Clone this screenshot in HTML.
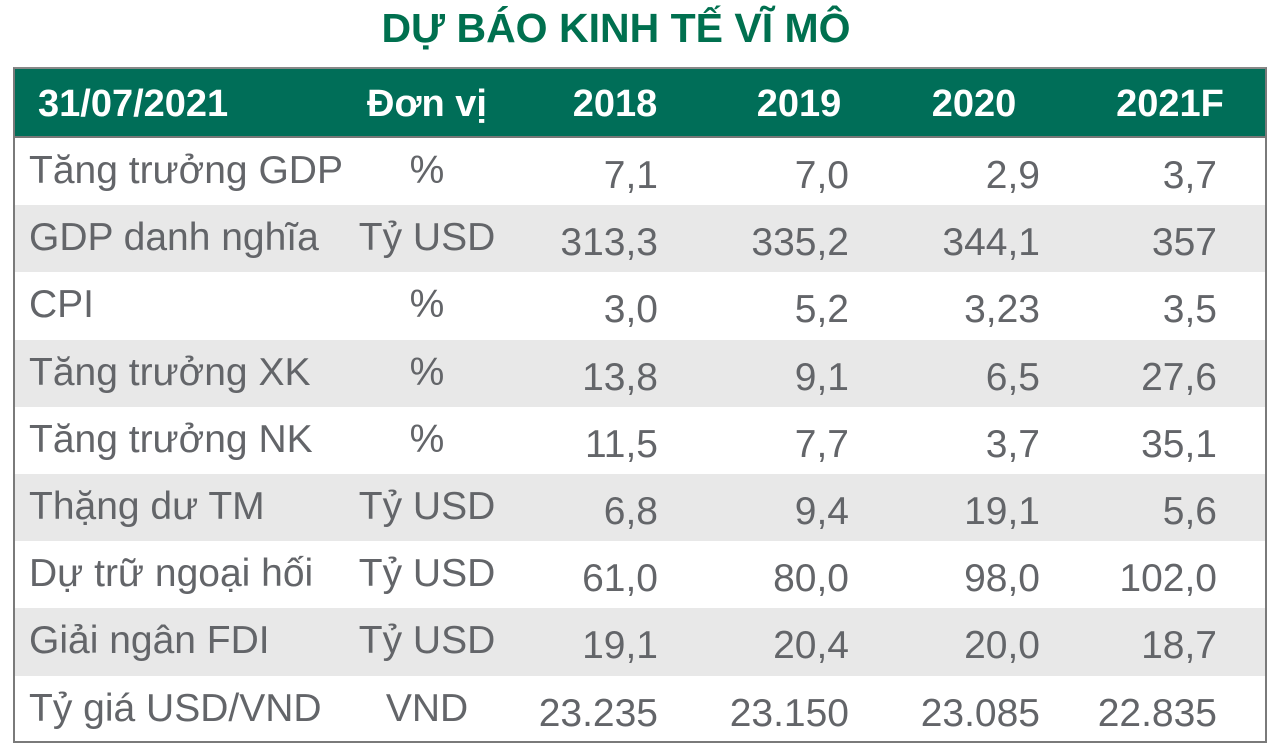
<!DOCTYPE html>
<html><head><meta charset="utf-8"><style>
body{margin:0;width:1276px;height:751px;background:#fff;position:relative;font-family:"Liberation Sans",sans-serif;overflow:hidden}
.t{position:absolute;left:0;width:1232px;top:6px;text-align:center;color:#00704f;font-weight:bold;font-size:41px;line-height:44px}
.box{position:absolute;left:13px;top:67px;width:1250px;height:672px;border:2px solid #7a7a7a;border-top-color:#888}
.h{position:absolute;left:0;top:0;width:1250px;height:67px;background:#006e58;border-bottom:2px solid #777}
.r{position:absolute;left:0;width:1250px;height:67.2px}
.g{background:#e8e8e8}
.c{position:absolute;font-size:39px;color:#636569;line-height:40px;white-space:nowrap}
.hc{position:absolute;font-size:38px;color:#fff;font-weight:bold;line-height:40px;top:15px}
</style></head><body>
<div class="t">DỰ BÁO KINH TẾ VĨ MÔ</div>
<div class="box">
<div class="h">
<div class="hc" style="left:23px">31/07/2021</div>
<div class="hc" style="left:312px;width:200px;text-align:center">Đơn vị</div>
<div class="hc" style="left:540px;width:120px;text-align:center">2018</div>
<div class="hc" style="left:724px;width:120px;text-align:center">2019</div>
<div class="hc" style="left:899px;width:120px;text-align:center">2020</div>
<div class="hc" style="left:1085px;width:140px;text-align:center">2021F</div>
</div>
<div id="rows"></div>
</div>
<script>
var d=[["Tăng trưởng GDP","%","7,1","7,0","2,9","3,7"],["GDP danh nghĩa","Tỷ USD","313,3","335,2","344,1","357"],["CPI","%","3,0","5,2","3,23","3,5"],["Tăng trưởng XK","%","13,8","9,1","6,5","27,6"],["Tăng trưởng NK","%","11,5","7,7","3,7","35,1"],["Thặng dư TM","Tỷ USD","6,8","9,4","19,1","5,6"],["Dự trữ ngoại hối","Tỷ USD","61,0","80,0","98,0","102,0"],["Giải ngân FDI","Tỷ USD","19,1","20,4","20,0","18,7"],["Tỷ giá USD/VND","VND","23.235","23.150","23.085","22.835"]];
var R=[643,834,1025,1202],h="";
d.forEach(function(r,i){var top=69+i*67.2;h+='<div class="r'+(i%2?' g':'')+'" style="top:'+top+'px">';
h+='<div class="c" style="left:14px;top:13px">'+r[0]+'</div>';
h+='<div class="c" style="left:312px;width:200px;text-align:center;top:13px">'+r[1]+'</div>';
for(var k=0;k<4;k++)h+='<div class="c" style="left:'+(R[k]-200)+'px;width:200px;text-align:right;top:18px">'+r[k+2]+'</div>';
h+='</div>';});
document.getElementById('rows').innerHTML=h;
</script>
</body></html>
